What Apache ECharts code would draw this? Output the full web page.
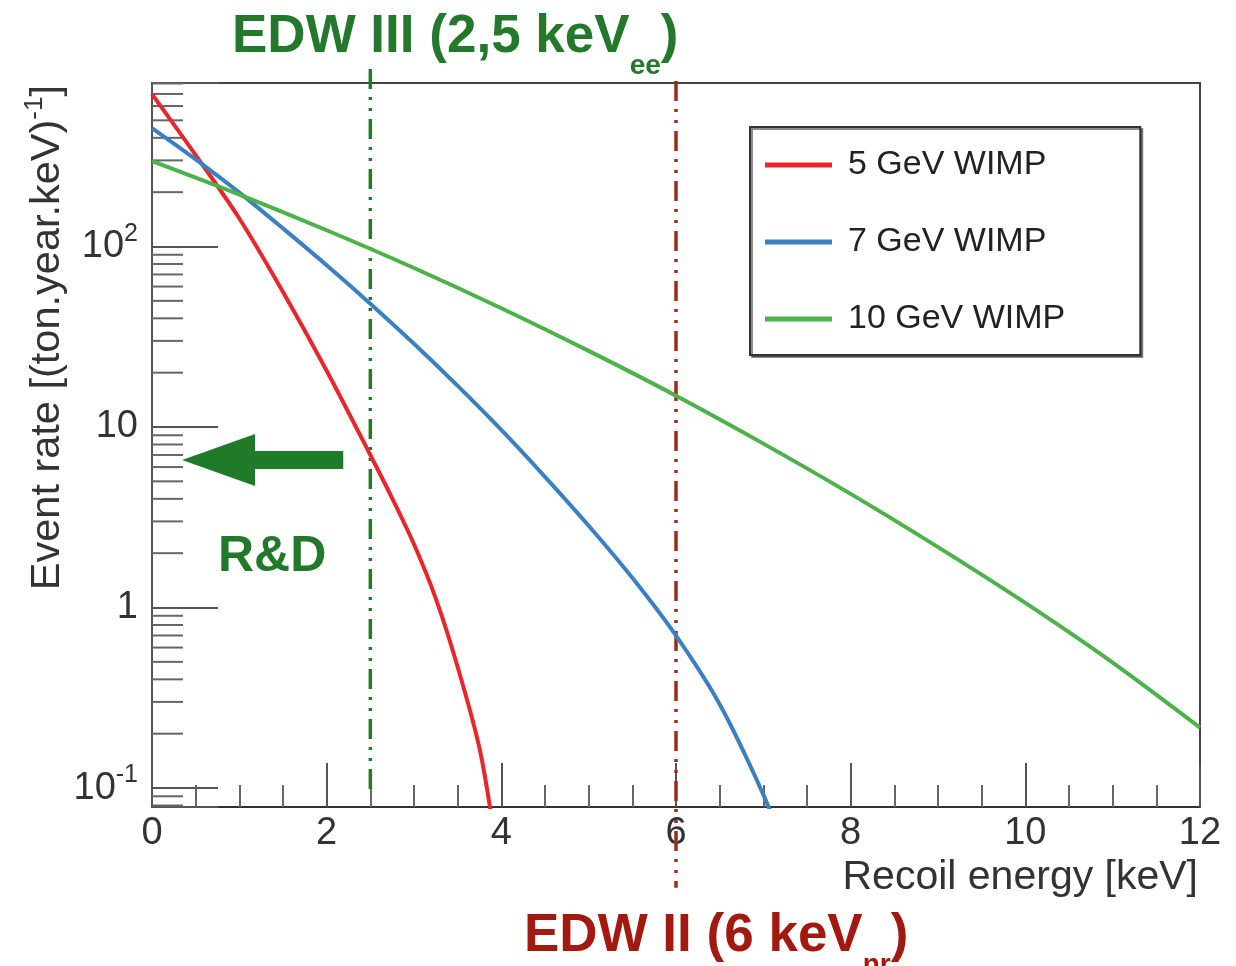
<!DOCTYPE html>
<html><head><meta charset="utf-8">
<script src="https://cdn.jsdelivr.net/npm/echarts@6/dist/echarts.min.js"></script>
<style>html,body{margin:0;padding:0;background:#fff}#c{width:1236px;height:966px}</style>
</head><body><div id="c"></div>
<script>
const FONT = "'Liberation Sans', Arial, Helvetica, sans-serif";

// ---- data ----
const seriesNames = ['5 GeV WIMP', '7 GeV WIMP', '10 GeV WIMP'];
const xRed  = [0, 0.5, 1, 1.5, 2, 2.5, 2.75, 3, 3.25, 3.5, 3.75, 3.9];
const yRed  = [699, 321, 143, 56, 20.5, 7.0, 4.03, 2.24, 1.12, 0.468, 0.166, 0.063];
const xBlue = [0, 0.5, 1, 1.5, 2, 2.5, 3, 3.5, 4, 4.5, 5, 5.5, 6, 6.5, 7, 7.25];
const yBlue = [453, 304, 199, 126, 78.7, 48.2, 28.9, 16.9, 9.64, 5.30, 2.84, 1.46, 0.698, 0.291, 0.092, 0.045];
const xGreen = [0, 1, 2, 3, 4, 5, 6, 7, 8, 9, 10, 11, 12];
const yGreen = [297, 194, 123, 76, 45.5, 26.4, 14.9, 8.09, 4.26, 2.16, 1.06, 0.495, 0.216];
const yMinorTicks = [0.08, 0.09, 0.2, 0.3, 0.4, 0.5, 0.6, 0.7, 0.8, 0.9, 2, 3, 4, 5, 6, 7, 8, 9,
                     20, 30, 40, 50, 60, 70, 80, 90, 200, 300, 400, 500, 600, 700, 800];
// thresholds: [energy, top value, bottom value]
const thresholdLines = [[2.5, 962, 0.096], [6, 826, 0.028]];
// R&D arrow: [tail energy, tip energy, rate]
const arrowData = [[2.19, 0.344, 6.56]];

const RED = '#e8262b', BLUE = '#3b80c3', GREEN = '#4db24a';
const DGREEN = '#23782b', DRED = '#a2190f';
const lineColors = [DGREEN, '#9b2b1b'];
const lineDashes = [[20, 8, 3, 8, 3, 8], [20, 8, 3, 8, 3, 8]];

const pairs = (xs, ys) => xs.map((x, i) => [x, ys[i]]);

const chart = echarts.init(document.getElementById('c'), null, {renderer: 'canvas'});

const subRich = (c) => ({
  a: {fontSize: 53, fontWeight: 'bold', color: c, fontFamily: FONT, lineHeight: 62},
  s: {fontSize: 28, fontWeight: 'bold', color: c, fontFamily: FONT, lineHeight: 28, padding: [46, 0, 0, 0], verticalAlign: 'top'}
});

const option = {
  animation: false,
  backgroundColor: '#fff',
  grid: {left: 152, right: 36, top: 83, bottom: 159, show: true, borderColor: '#444', borderWidth: 2,
         backgroundColor: 'transparent', containLabel: false, outerBoundsMode: 'none'},
  title: [
    {text: '{a|EDW III (2,5 keV}{s|ee}{a|)}', left: 232, top: 6, padding: 0, textStyle: {rich: subRich(DGREEN)}},
    {text: '{a|EDW II (6 keV}{s|nr}{a|)}', left: 524, top: 905, padding: 0, textStyle: {rich: subRich(DRED)}},
    {text: 'R&D', left: 218, top: 527, padding: 0,
     textStyle: {fontSize: 50, fontWeight: 'bold', color: DGREEN, fontFamily: FONT, lineHeight: 60}}
  ],
  legend: {
    orient: 'vertical', left: 750, top: 127, padding: [21, 75, 19, 15], itemGap: 43,
    itemWidth: 67, itemHeight: 5, icon: 'rect',
    backgroundColor: '#fff', borderColor: '#333', borderWidth: 2,
    shadowColor: 'rgba(0,0,0,0.45)', shadowOffsetX: 2, shadowOffsetY: 2, shadowBlur: 0,
    textStyle: {fontSize: 34, lineHeight: 34, color: '#222', fontFamily: FONT, padding: [0, 0, 0, 11]},
    data: seriesNames
  },
  xAxis: {
    type: 'value', min: 0, max: 12, interval: 2,
    axisLine: {show: true, lineStyle: {color: '#333', width: 2}},
    axisTick: {show: true, inside: true, length: 44, lineStyle: {color: '#555', width: 2}},
    minorTick: {show: true, splitNumber: 4, length: 22, lineStyle: {color: '#666', width: 2}},
    axisLabel: {fontSize: 38, color: '#333', fontFamily: FONT, margin: 8},
    splitLine: {show: false}
  },
  yAxis: {
    type: 'log', logBase: 10, min: 0.0785, max: 805,
    axisLine: {show: true, lineStyle: {color: '#555', width: 2}},
    axisTick: {show: true, inside: true, length: 66, lineStyle: {color: '#555', width: 2}},
    minorTick: {show: false},
    splitLine: {show: false},
    axisLabel: {
      fontSize: 38, color: '#333', fontFamily: FONT, margin: 14,
      showMinLabel: true, showMaxLabel: true,
      formatter: function (v) {
        const l = Math.log10(v), r = Math.round(l);
        if (Math.abs(l - r) > 1e-6) return '';
        if (r === 0) return '1';
        if (r === 1) return '10';
        return '{m|10}{p|' + (r < 0 ? '-' + (-r) : r) + '}';
      },
      rich: {
        m: {fontSize: 38, lineHeight: 50, color: '#333', fontFamily: FONT},
        p: {fontSize: 25, lineHeight: 26, color: '#333', fontFamily: FONT, verticalAlign: 'top'}
      }
    }
  },
  graphic: [
    {type: 'text', x: 48, y: 85, rotation: Math.PI / 2, z: 10,
     style: {text: '{t|Event rate [(ton.year.keV)}{p|-1}{t|]}', align: 'right', verticalAlign: 'middle',
       rich: {
         t: {fontSize: 41.5, lineHeight: 52, fill: '#333', fontFamily: FONT},
         p: {fontSize: 26, lineHeight: 27, fill: '#333', fontFamily: FONT, verticalAlign: 'top'}
       }}},
    {type: 'text', x: 1198, y: 878, z: 10,
     style: {text: 'Recoil energy [keV]', fontSize: 41, fontFamily: FONT, fill: '#333', align: 'right', verticalAlign: 'middle'}}
  ],
  series: [
    {name: seriesNames[0], type: 'line', data: pairs(xRed, yRed), showSymbol: false, smooth: 0.3, clip: true,
     lineStyle: {color: RED, width: 4}, itemStyle: {color: RED}, z: 5},
    {name: seriesNames[1], type: 'line', data: pairs(xBlue, yBlue), showSymbol: false, smooth: 0.3, clip: true,
     lineStyle: {color: BLUE, width: 4}, itemStyle: {color: BLUE}, z: 5},
    {name: seriesNames[2], type: 'line', data: pairs(xGreen, yGreen), showSymbol: false, smooth: 0.3, clip: true,
     lineStyle: {color: GREEN, width: 4}, itemStyle: {color: GREEN}, z: 5},
    {name: 'yMinor', type: 'custom', coordinateSystem: 'cartesian2d', silent: true, z: 4,
     data: yMinorTicks.map(v => [0, v]),
     renderItem: function (params, api) {
       const p = api.coord([api.value(0), api.value(1)]);
       return {type: 'line', shape: {x1: p[0], y1: p[1], x2: p[0] + 31, y2: p[1]},
               style: {stroke: '#666', lineWidth: 2}};
     }},
    {name: 'thresholds', type: 'custom', coordinateSystem: 'cartesian2d', silent: true, z: 3,
     encode: {x: 0, y: [1, 2]},
     data: thresholdLines,
     renderItem: function (params, api) {
       const a = api.coord([api.value(0), api.value(1)]);
       const b = api.coord([api.value(0), api.value(2)]);
       return {type: 'line', shape: {x1: a[0], y1: a[1], x2: b[0], y2: b[1]},
               style: {stroke: lineColors[params.dataIndex], lineWidth: 3.5, lineDash: lineDashes[params.dataIndex]}};
     }},
    {name: 'arrow', type: 'custom', coordinateSystem: 'cartesian2d', silent: true, z: 6,
     encode: {x: [0, 1], y: 2},
     data: arrowData,
     renderItem: function (params, api) {
       const tail = api.coord([api.value(0), api.value(2)]);
       const tip = api.coord([api.value(1), api.value(2)]);
       const y = tip[1], hl = 73, hw = 26, sw = 9;
       return {type: 'polygon', shape: {points: [
         [tail[0], y - sw], [tip[0] + hl, y - sw], [tip[0] + hl, y - hw], [tip[0], y],
         [tip[0] + hl, y + hw], [tip[0] + hl, y + sw], [tail[0], y + sw]]},
         style: {fill: '#1f7a29'}};
     }}
  ]
};
chart.setOption(option);
</script>
</body></html>
